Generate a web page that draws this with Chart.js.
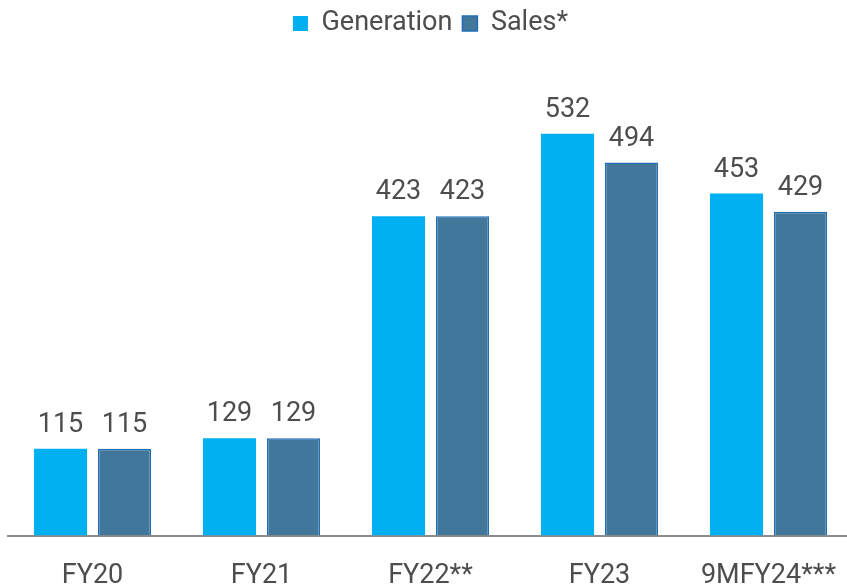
<!DOCTYPE html>
<html>
<head>
<meta charset="utf-8">
<script src="https://cdn.jsdelivr.net/npm/chart.js@4"></script>
<style>
  html, body { margin: 0; padding: 0; background: #fff; overflow: hidden; }
  #wrap { position: absolute; left: 0; top: 0; width: 860px; height: 608px; }
</style>
</head>
<body>
<div id="wrap"><canvas id="chart"></canvas></div>
<script>
const categories = ['FY20', 'FY21', 'FY22**', 'FY23', '9MFY24***'];
const generation = [115, 129, 423, 532, 453];
const sales = [115, 129, 423, 494, 429];

const FONT = 'Roboto, "Noto Sans", sans-serif';

// draws the value above every bar
const valueLabels = {
    id: 'valueLabels',
    afterDatasetsDraw(chart) {
        const ctx = chart.ctx;
        ctx.save();
        ctx.font = '27px ' + FONT;
        ctx.fillStyle = '#4d4d4d';
        ctx.textAlign = 'center';
        ctx.textBaseline = 'alphabetic';
        chart.data.datasets.forEach((ds, i) => {
            chart.getDatasetMeta(i).data.forEach((bar, j) => {
                ctx.fillText(ds.data[j], bar.x, bar.y - 17);
            });
        });
        ctx.restore();
    }
};

new Chart(document.getElementById('chart'), {
    type: 'bar',
    data: {
        labels: categories,
        datasets: [{
            label: 'Generation',
            data: generation,
            backgroundColor: '#00b0f0',
            borderWidth: 0,
            categoryPercentage: 0.757,
            barPercentage: 0.83
        }, {
            label: 'Sales*',
            data: sales,
            backgroundColor: '#41779b',
            borderColor: '#1f6db5',
            borderWidth: 1.5,
            categoryPercentage: 0.757,
            barPercentage: 0.83
        }]
    },
    options: {
        responsive: true,
        maintainAspectRatio: false,
        animation: false,
        layout: { padding: { left: 8, right: 7, top: 0, bottom: 0 } },
        plugins: {
            tooltip: { enabled: false },
            legend: {
                position: 'top',
                labels: {
                    boxWidth: 15,
                    boxHeight: 15,
                    padding: 10,
                    color: '#4d4d4d',
                    font: { family: FONT, size: 27 }
                }
            }
        },
        scales: {
            x: {
                grid: { display: false },
                border: { display: true, color: '#8c8c8c', width: 2 },
                ticks: { color: '#4d4d4d', padding: 16, font: { family: FONT, size: 27 } }
            },
            y: {
                display: false,
                min: 0,
                max: 647
            }
        }
    },
    plugins: [valueLabels]
});
</script>
</body>
</html>
